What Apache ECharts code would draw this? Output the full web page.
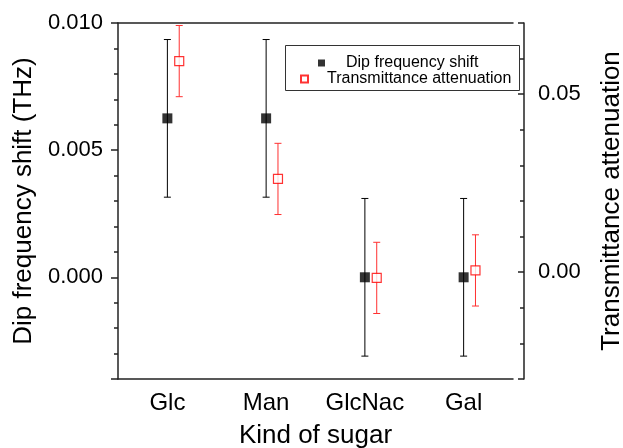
<!DOCTYPE html>
<html>
<head>
<meta charset="utf-8">
<script src="https://cdn.jsdelivr.net/npm/echarts@6/dist/echarts.min.js"></script>
<style>
  html, body { margin: 0; padding: 0; background: #fff; }
  #main { width: 623px; height: 448px; }
</style>
</head>
<body>
<div id="main"></div>
<script>
var sugars = ['Glc', 'Man', 'GlcNac', 'Gal'];
var dipShift = [0.00625, 0.00625, 0.0, 0.0];
var dipErr = [0.0031, 0.0031, 0.0031, 0.0031];
var attenuation = [0.0593, 0.0262, -0.0016, 0.0005];
var attErr = [0.0100, 0.0100, 0.0100, 0.0100];

var font = 'Liberation Sans, Arial, sans-serif';
var axisColor = '#222';
var red = '#ff0000';
var redShift = 0.12; // red points sit a little right of the category

var myChart = echarts.init(document.getElementById('main'));

function points(vals, dx) {
  var res = [];
  for (var i = 0; i < vals.length; i++) {
    res.push([i + dx, vals[i]]);
  }
  return res;
}

function bars(vals, errs, dx) {
  var res = [];
  for (var i = 0; i < vals.length; i++) {
    res.push([i + dx, vals[i] - errs[i], vals[i] + errs[i]]);
  }
  return res;
}

function errorBar(color) {
  return function (params, api) {
    var x = api.value(0);
    var lo = api.coord([x, api.value(1)]);
    var hi = api.coord([x, api.value(2)]);
    var cap = 3.5;
    var style = { stroke: color, lineWidth: 1 };
    return {
      type: 'group',
      children: [
        { type: 'line', shape: { x1: lo[0], y1: lo[1], x2: hi[0], y2: hi[1] }, style: style },
        { type: 'line', shape: { x1: lo[0] - cap, y1: lo[1], x2: lo[0] + cap, y2: lo[1] }, style: style },
        { type: 'line', shape: { x1: hi[0] - cap, y1: hi[1], x2: hi[0] + cap, y2: hi[1] }, style: style }
      ]
    };
  };
}

var line = { color: axisColor, width: 1.5 };

var option = {
  animation: false,
  backgroundColor: '#fff',
  grid: { left: 118, right: 110, top: 23, bottom: 69, outerBoundsMode: 'none', containLabel: false },
  legend: [
    {
      data: ['Dip frequency shift'],
      left: 318, top: 55, padding: 0,
      itemWidth: 7, itemHeight: 7,
      selectedMode: false,
      textStyle: { fontFamily: font, fontSize: 16, color: '#000', padding: [0, 0, 0, 16] }
    },
    {
      data: ['Transmittance attenuation'],
      left: 300, top: 71, padding: 0,
      itemWidth: 7, itemHeight: 7,
      selectedMode: false,
      textStyle: { fontFamily: font, fontSize: 16, color: '#000', padding: [0, 0, 0, 14] }
    }
  ],
  graphic: [
    {
      type: 'rect',
      shape: { x: 285.5, y: 45.5, width: 234, height: 45 },
      style: { fill: 'transparent', stroke: '#333', lineWidth: 1 }
    }
  ],
  xAxis: [
    {
      type: 'category',
      data: sugars,
      position: 'bottom',
      boundaryGap: true,
      axisLine: { onZero: false, lineStyle: line },
      axisTick: { alignWithLabel: true, length: 6, lineStyle: line },
      axisLabel: { interval: 0, fontFamily: font, fontSize: 24, color: '#000', margin: 12 },
      splitLine: { show: false },
      name: 'Kind of sugar',
      nameLocation: 'middle',
      nameGap: 44,
      nameTextStyle: { fontFamily: font, fontSize: 26, color: '#000' }
    },
    {
      type: 'category',
      data: sugars,
      position: 'top',
      boundaryGap: true,
      axisLine: { onZero: false, lineStyle: line },
      axisTick: { alignWithLabel: true, inside: true, length: 6, lineStyle: line },
      axisLabel: { show: false },
      splitLine: { show: false }
    },
    {
      type: 'value',
      min: -0.5,
      max: 3.5,
      show: false,
      axisLine: { onZero: false }
    }
  ],
  yAxis: [
    {
      type: 'value',
      position: 'left',
      min: -0.004,
      max: 0.010,
      splitNumber: 3,
      axisLine: { show: true, onZero: false, lineStyle: line },
      axisTick: { show: true, length: 7, lineStyle: line },
      minorTick: { show: true, splitNumber: 5, length: 4, lineStyle: { color: axisColor, width: 1.5 } },
      splitLine: { show: false },
      axisLabel: {
        fontFamily: font, fontSize: 22, color: '#000', margin: 15,
        showMinLabel: false,
        formatter: function (v) { return v.toFixed(3); }
      },
      name: 'Dip frequency shift (THz)',
      nameLocation: 'middle',
      nameRotate: 90,
      nameGap: 78,
      nameTextStyle: { fontFamily: font, fontSize: 26, color: '#000' }
    },
    {
      type: 'value',
      position: 'right',
      offset: 11,
      min: -0.03,
      max: 0.07,
      splitNumber: 2,
      axisLine: { show: true, onZero: false, lineStyle: line },
      axisTick: { show: true, inside: true, length: 6, lineStyle: line },
      minorTick: { show: true, splitNumber: 5, length: 4, lineStyle: { color: axisColor, width: 1.5 } },
      splitLine: { show: false },
      axisLabel: {
        fontFamily: font, fontSize: 22, color: '#000', margin: 14,
        showMinLabel: false, showMaxLabel: false,
        formatter: function (v) { return v.toFixed(2); }
      },
      name: 'Transmittance attenuation',
      nameLocation: 'middle',
      nameRotate: 90,
      nameGap: 75,
      nameTextStyle: { fontFamily: font, fontSize: 26, color: '#000' }
    }
  ],
  series: [
    {
      name: 'dipErr',
      type: 'custom',
      xAxisIndex: 2,
      yAxisIndex: 0,
      renderItem: errorBar('#000'),
      encode: { x: 0, y: [1, 2] },
      data: bars(dipShift, dipErr, 0),
      z: 1
    },
    {
      name: 'attErr',
      type: 'custom',
      xAxisIndex: 2,
      yAxisIndex: 1,
      renderItem: errorBar('#ff3030'),
      encode: { x: 0, y: [1, 2] },
      data: bars(attenuation, attErr, redShift),
      z: 1
    },
    {
      name: 'Dip frequency shift',
      type: 'scatter',
      xAxisIndex: 2,
      yAxisIndex: 0,
      symbol: 'rect',
      symbolSize: 10,
      itemStyle: { color: '#000' },
      data: points(dipShift, 0),
      z: 3
    },
    {
      name: 'Transmittance attenuation',
      type: 'scatter',
      xAxisIndex: 2,
      yAxisIndex: 1,
      symbol: 'rect',
      symbolSize: 9,
      itemStyle: { color: '#fff', borderColor: red, borderWidth: 1.2 },
      data: points(attenuation, redShift),
      z: 3
    }
  ]
};

myChart.setOption(option);
</script>
</body>
</html>
